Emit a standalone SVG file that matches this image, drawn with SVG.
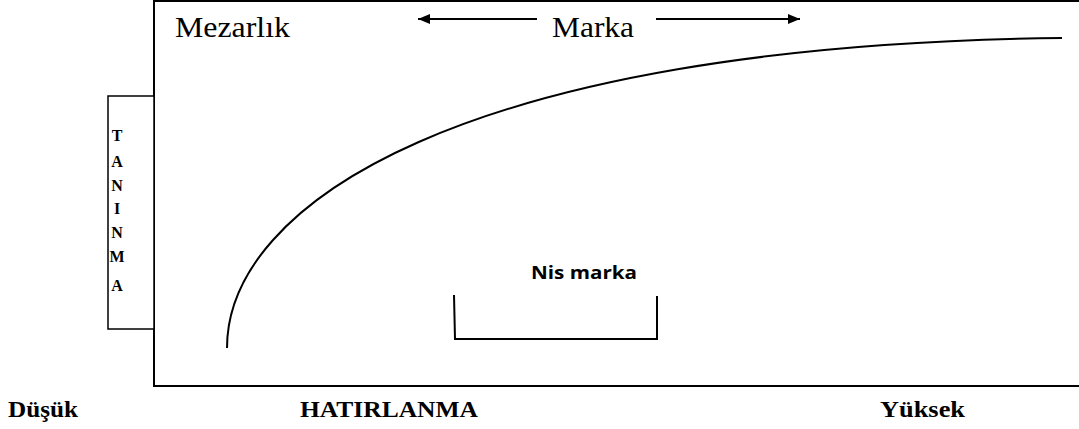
<svg xmlns="http://www.w3.org/2000/svg" width="1079" height="429" viewBox="0 0 1079 429">
<style>
.ln{stroke:#000;stroke-width:2;fill:none}
text{fill:#000}
.big{font-size:30px}
.axis{font-size:24px;font-weight:bold}
.vert{font-size:16px;font-weight:bold;text-anchor:middle}
.sans{font-weight:bold;font-size:17px}
</style>
<defs>
<marker id="ah" viewBox="0 0 12 10" refX="12" refY="5" markerWidth="13" markerHeight="10" markerUnits="userSpaceOnUse" orient="auto">
<path d="M0,0 L12,5 L0,10 Z" fill="#000"/>
</marker>
</defs>
<rect width="1079" height="429" fill="#fff"/>
<g id="frame">
<path class="ln" d="M154,0 V386 H1079 M154,1 H1079"/>
</g>
<g id="taninma" font-family="'Liberation Serif', 'Times New Roman', serif">
<rect x="108" y="96" width="46" height="233" fill="#fff" stroke="#000" stroke-width="1.5"/>
<text class="vert" x="117" y="141">T</text>
<text class="vert" x="117" y="167">A</text>
<text class="vert" x="117" y="191">N</text>
<text class="vert" x="117" y="214">I</text>
<text class="vert" x="117" y="238">N</text>
<text class="vert" x="117" y="262">M</text>
<text class="vert" x="117" y="291">A</text>
</g>
<g id="mezarlik" font-family="'Liberation Serif', 'Times New Roman', serif">
<text class="big" x="175" y="37" textLength="115" lengthAdjust="spacingAndGlyphs">Mezarlık</text>
</g>
<g id="marka" font-family="'Liberation Serif', 'Times New Roman', serif">
<text class="big" x="552" y="37" textLength="82" lengthAdjust="spacingAndGlyphs">Marka</text>
</g>
<g id="nis-marka">
<text class="sans" font-family="'Open Sans', 'Liberation Sans', Arial, sans-serif" x="531" y="279" textLength="106" lengthAdjust="spacingAndGlyphs">Nis marka</text>
<path class="ln" d="M454,295 L455,339 H657 V296"/>
</g>
<g id="curve">
<path class="ln" d="M227,348 C227,205 460,45 1062,38"/>
</g>
<g id="connectors">
<line class="ln" x1="537" y1="19" x2="418" y2="19" marker-end="url(#ah)"/>
<line class="ln" x1="656" y1="19" x2="800" y2="19" marker-end="url(#ah)"/>
</g>
<g id="axis-labels" font-family="'Liberation Serif', 'Times New Roman', serif">
<text class="axis" x="8" y="417" textLength="70" lengthAdjust="spacingAndGlyphs">Düşük</text>
<text class="axis" x="300" y="417" textLength="178" lengthAdjust="spacingAndGlyphs">HATIRLANMA</text>
<text class="axis" x="880" y="417" textLength="85" lengthAdjust="spacingAndGlyphs">Yüksek</text>
</g>
</svg>
